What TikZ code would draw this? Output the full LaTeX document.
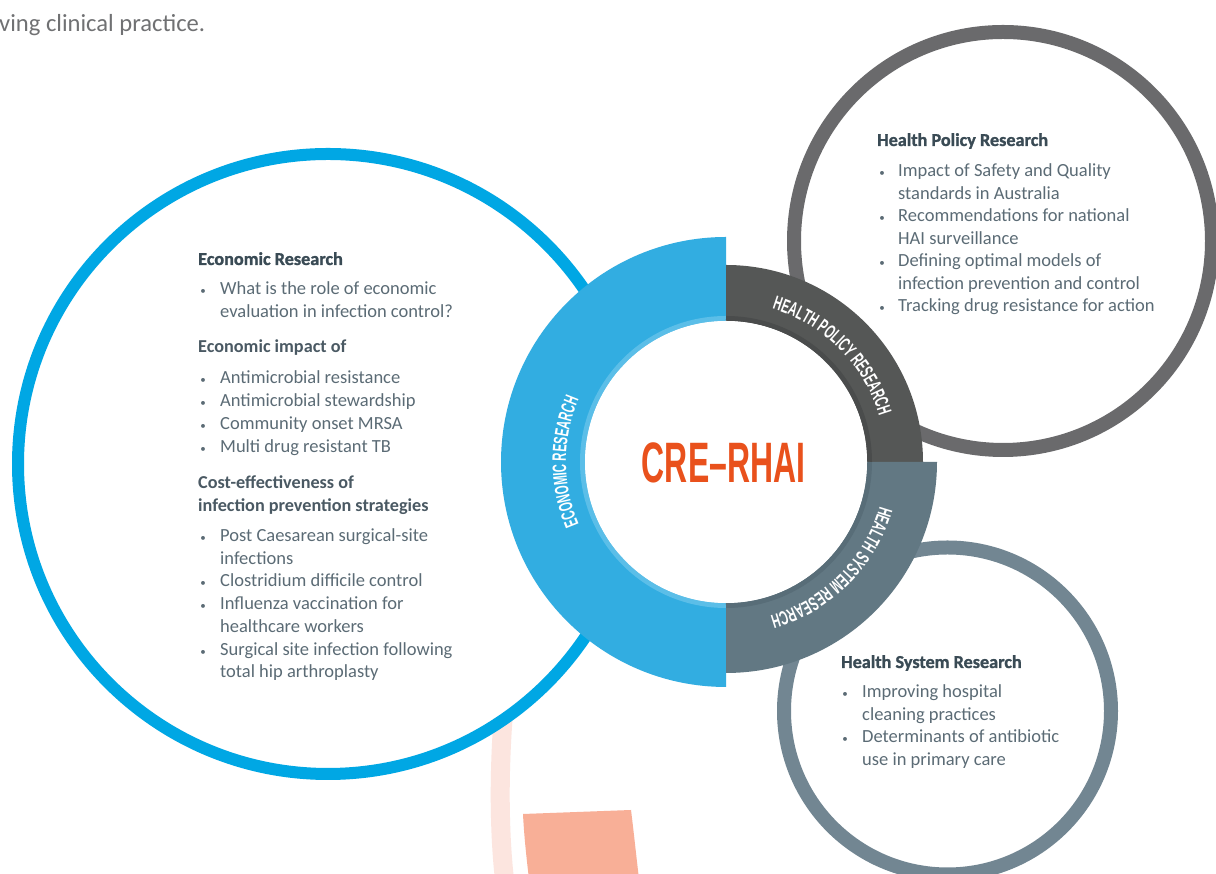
\documentclass[tikz,border=0pt]{standalone}
\usepackage{fontspec}
\usepackage{graphicx}
\setmainfont{Carlito}
\newfontfamily\ringfont[FakeStretch=0.58]{Liberation Sans Bold}
\newfontfamily\crefont[FakeStretch=0.56]{Liberation Sans Bold}
\newfontfamily\heavyfont[FakeBold=1.2]{Carlito Bold}
\newfontfamily\semifont{Carlito Bold}
\usetikzlibrary{decorations.text}
\definecolor{circblue}{HTML}{00A7E4}
\definecolor{ringblue}{HTML}{32ADE1}
\definecolor{ringblueband}{HTML}{5BBEE8}
\definecolor{ringdark}{HTML}{555756}
\definecolor{ringdarkband}{HTML}{4A4C4C}
\definecolor{ringslate}{HTML}{627883}
\definecolor{ringslateband}{HTML}{586D78}
\definecolor{polgrey}{HTML}{6A6A6C}
\definecolor{sysgrey}{HTML}{728692}
\definecolor{creorange}{HTML}{E9511C}
\definecolor{pinkc}{HTML}{FCE5DF}
\definecolor{salmonc}{HTML}{F8AF97}
\definecolor{textc}{HTML}{5B6B75}
\definecolor{headc}{HTML}{3A4B55}
\definecolor{subc}{HTML}{4A5963}
\definecolor{introc}{HTML}{707173}
\begin{document}
\begin{tikzpicture}[x=1pt,y=1pt,
  body/.style={anchor=base west, inner sep=0pt, text=textc, font=\fontsize{18.5}{23}\selectfont},
  head/.style={anchor=base west, inner sep=0pt, text=headc, font=\heavyfont\fontsize{18.2}{22}\selectfont},
  subhead/.style={anchor=base west, inner sep=0pt, text=subc, font=\semifont\fontsize{18.2}{23}\selectfont},
  bul/.style={anchor=base, inner sep=0pt, text=textc, font=\fontsize{11}{11}\selectfont},
  ringlabel/.style={decorate, decoration={text along path, text align=center, text color=white}},
]
\useasboundingbox (0,0) rectangle (1216,874);
\fill[white] (0,0) rectangle (1216,874);

% intro text (cropped)
\node[anchor=base west, inner sep=0pt, text=introc, font=\fontsize{24.6}{28}\selectfont] (intro) at (-1,842) {ving clinical practice.};

% decorative shapes at the bottom
\draw[pinkc, line width=19pt] (503,155) .. controls (499,100) and (499,40) .. (505,-10);
\fill[salmonc] (523,60) -- (631,64) .. controls (634,40) and (636,20) .. (639,-5) -- (529,-5) .. controls (526,20) and (524,40) .. (523,60) -- cycle;

% outer circles
\draw[circblue, line width=12pt] (328,410) circle[radius=310pt];
\draw[polgrey, line width=14pt] (1003,633) circle[radius=209pt];
\draw[sysgrey, line width=14pt] (947.5,163) circle[radius=163.5pt];

% ring segments
\fill[ringblue] (726,637) arc[start angle=90, end angle=270, radius=225pt] -- (726,271) arc[start angle=270, end angle=90, radius=141pt] -- cycle;
\fill[ringdark] (923,412) arc[start angle=0, end angle=90, radius=197pt] -- (726,553) arc[start angle=90, end angle=0, radius=141pt] -- cycle;
\fill[ringslate] (726,201) arc[start angle=-90, end angle=0, radius=211pt] -- (867,412) arc[start angle=0, end angle=-90, radius=141pt] -- cycle;
\draw[ringblueband, line width=5pt] (726,555.5) arc[start angle=90, end angle=270, radius=143.5pt];
\draw[ringdarkband, line width=5pt] (869.5,412) arc[start angle=0, end angle=90, radius=143.5pt];
\draw[ringslateband, line width=5pt] (726,268.5) arc[start angle=-90, end angle=0, radius=143.5pt];
\fill[white] (726,412) circle[radius=141pt];

% ring labels
\path[ringlabel, decoration={text={|\ringfont\fontsize{19.5}{19.5}\selectfont|HEALTH POLICY RESEARCH}}]
  (753.78,569.57) arc[start angle=80, end angle=10, radius=160pt];
\path[ringlabel, decoration={text={|\ringfont\fontsize{19.5}{19.5}\selectfont|ECONOMIC RESEARCH}}]
  (594.94,320.23) arc[start angle=215, end angle=145, radius=160pt];
\path[ringlabel, decoration={text={|\ringfont\fontsize{19.5}{19.5}\selectfont|HEALTH SYSTEM RESEARCH}}]
  (883.57,384.22) arc[start angle=-10, end angle=-80, radius=160pt];

% centre title
\node[anchor=base, inner sep=0pt, text=creorange, font=\crefont\fontsize{57}{57}\selectfont] (cre) at (723.5,391) {CRE–RHAI};

% Economic research block
\node[head] (eh) at (198,609) {Economic Research};
\node[bul] (eb1) at (203,579) {•};
\node[body] (e1a) at (220,579) {What is the role of economic};
\node[body] (e1b) at (220,556) {evaluation in infection control?};
\node[subhead] (es1) at (198,521) {Economic impact of};
\node[bul] (eb2) at (203,490) {•};
\node[body] (e2) at (220,490) {Antimicrobial resistance};
\node[bul] (eb3) at (203,467.2) {•};
\node[body] (e3) at (220,467.2) {Antimicrobial stewardship};
\node[bul] (eb4) at (203,444.4) {•};
\node[body] (e4) at (220,444.4) {Community onset MRSA};
\node[bul] (eb5) at (203,421.6) {•};
\node[body] (e5) at (220,421.6) {Multi drug resistant TB};
\node[subhead] (es2a) at (198,385) {Cost-effectiveness of};
\node[subhead] (es2b) at (198,362) {infection prevention strategies};
\node[bul] (eb6) at (203,332) {•};
\node[body] (e6a) at (220,332) {Post Caesarean surgical-site};
\node[body] (e6b) at (220,309.5) {infections};
\node[bul] (eb7) at (203,287) {•};
\node[body] (e7) at (220,287) {Clostridium difficile control};
\node[bul] (eb8) at (203,264) {•};
\node[body] (e8a) at (220,264) {Influenza vaccination for};
\node[body] (e8b) at (220,241.5) {healthcare workers};
\node[bul] (eb9) at (203,218.5) {•};
\node[body] (e9a) at (220,218.5) {Surgical site infection following};
\node[body] (e9b) at (220,196) {total hip arthroplasty};

% Health policy block
\node[head] (ph) at (877,728) {Health Policy Research};
\node[bul] (pb1) at (882,697) {•};
\node[body] (p1a) at (898,697) {Impact of Safety and Quality};
\node[body] (p1b) at (898,674.5) {standards in Australia};
\node[bul] (pb2) at (882,652) {•};
\node[body] (p2a) at (898,652) {Recommendations for national};
\node[body] (p2b) at (898,629.5) {HAI surveillance};
\node[bul] (pb3) at (882,607) {•};
\node[body] (p3a) at (898,607) {Defining optimal models of};
\node[body] (p3b) at (898,584.5) {infection prevention and control};
\node[bul] (pb4) at (882,562) {•};
\node[body] (p4) at (898,562) {Tracking drug resistance for action};

% Health system block
\node[head] (sh) at (841,206) {Health System Research};
\node[bul] (sb1) at (845,176) {•};
\node[body] (s1a) at (862,176) {Improving hospital};
\node[body] (s1b) at (862,153) {cleaning practices};
\node[bul] (sb2) at (845,131) {•};
\node[body] (s2a) at (862,131) {Determinants of antibiotic};
\node[body] (s2b) at (862,108) {use in primary care};
\end{tikzpicture}
\end{document}
